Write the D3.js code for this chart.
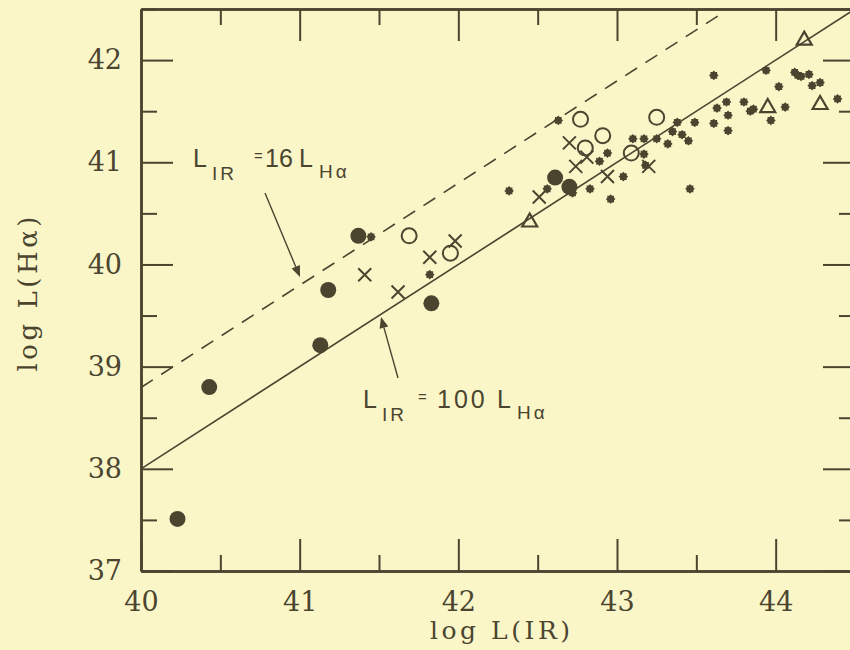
<!DOCTYPE html>
<html><head><meta charset="utf-8">
<script src="https://cdn.jsdelivr.net/npm/d3@7"></script>
<style>
html,body{margin:0;padding:0;background:#faf6c8;}
svg{display:block;}
</style></head>
<body>
<svg id="chart" width="850" height="650"></svg>
<script>
// ---- data (log L(IR), log L(Hα)) ----
const bigFilled = [[40.23,37.51],[40.43,38.80],[41.13,39.21],[41.18,39.75],[41.37,40.28],[41.83,39.62],[42.61,40.85],[42.70,40.76]];
const openCircles = [[41.69,40.28],[41.95,40.11],[42.77,41.42],[42.80,41.14],[42.91,41.26],[43.09,41.09],[43.25,41.44]];
const crosses = [[41.41,39.90],[41.62,39.73],[41.82,40.07],[41.98,40.23],[42.51,40.66],[42.70,41.19],[42.74,40.96],[42.81,41.05],[42.94,40.86],[43.20,40.96]];
const triangles = [[42.45,40.43],[43.95,41.55],[44.18,42.21],[44.28,41.58]];
const smallDots = [[41.45,40.27],[41.82,39.90],[42.32,40.72],[42.56,40.74],[42.63,41.41],[42.72,40.70],[42.83,40.74],[42.89,41.01],[42.94,41.09],[42.96,40.64],[43.04,40.86],[43.10,41.23],[43.17,41.23],[43.17,41.08],[43.18,40.97],[43.25,41.23],[43.32,41.18],[43.35,41.30],[43.38,41.39],[43.41,41.27],[43.45,41.21],[43.46,40.74],[43.49,41.39],[43.61,41.85],[43.61,41.38],[43.63,41.53],[43.69,41.59],[43.70,41.46],[43.70,41.31],[43.80,41.59],[43.84,41.50],[43.86,41.52],[43.94,41.90],[43.97,41.41],[44.02,41.74],[44.06,41.54],[44.12,41.88],[44.14,41.85],[44.16,41.84],[44.21,41.86],[44.23,41.75],[44.28,41.78],[44.39,41.62]];
const xTicks = [40,41,42,43,44];
const xMinor = [40.5,41.5,42.5,43.5,44.5];
const yTicks = [37,38,39,40,41,42];
const yMinor = [37.5,38.5,39.5,40.5,41.5,42.5];
const ratios = [{label:"16", logRatio:Math.log10(16)},{label:"100", logRatio:2}];

const ink = "#4b4530";
const svg = d3.select("#chart");
svg.append("rect").attr("width",850).attr("height",650).attr("fill","#faf6c8");

const x = d3.scaleLinear().domain([40,44.5]).range([141,855]);
const y = d3.scaleLinear().domain([37,42.5]).range([571,9]);

const serif = "'DejaVu Serif', serif";
const sans = "'Liberation Sans', Arial, sans-serif";

function styleAxis(g){
  g.select(".domain").attr("stroke",ink).attr("stroke-width",2.5);
  g.selectAll(".tick line").attr("stroke",ink).attr("stroke-width",2);
  g.selectAll(".tick text").attr("fill",ink).attr("font-family",serif).attr("font-size",27);
}
// bottom
svg.append("g").attr("transform",`translate(0,${y(37)})`)
  .call(d3.axisBottom(x).tickValues(xTicks).tickSizeInner(-32).tickSizeOuter(0).tickPadding(21).tickFormat(d3.format("d")))
  .call(styleAxis);
svg.append("g").attr("transform",`translate(0,${y(37)})`)
  .call(d3.axisBottom(x).tickValues(xMinor).tickSizeInner(-16).tickSizeOuter(0).tickFormat(""))
  .call(styleAxis);
// top
svg.append("g").attr("transform",`translate(0,${y(42.5)})`)
  .call(d3.axisTop(x).tickValues(xTicks).tickSizeInner(-32).tickSizeOuter(0).tickFormat(""))
  .call(styleAxis);
svg.append("g").attr("transform",`translate(0,${y(42.5)})`)
  .call(d3.axisTop(x).tickValues(xMinor).tickSizeInner(-16).tickSizeOuter(0).tickFormat(""))
  .call(styleAxis);
// left
svg.append("g").attr("transform",`translate(${x(40)},0)`)
  .call(d3.axisLeft(y).tickValues(yTicks).tickSizeInner(-32).tickSizeOuter(0).tickPadding(19).tickFormat(d3.format("d")))
  .call(styleAxis);
svg.append("g").attr("transform",`translate(${x(40)},0)`)
  .call(d3.axisLeft(y).tickValues(yMinor).tickSizeInner(-16).tickSizeOuter(0).tickFormat(""))
  .call(styleAxis);
// right
svg.append("g").attr("transform",`translate(${x(44.5)},0)`)
  .call(d3.axisRight(y).tickValues(yTicks).tickSizeInner(-32).tickSizeOuter(0).tickFormat(""))
  .call(styleAxis);
svg.append("g").attr("transform",`translate(${x(44.5)},0)`)
  .call(d3.axisRight(y).tickValues(yMinor).tickSizeInner(-16).tickSizeOuter(0).tickFormat(""))
  .call(styleAxis);

// axis titles
svg.append("text").attr("x",500).attr("y",639).attr("text-anchor","middle")
  .attr("font-family",serif).attr("font-size",25).attr("fill",ink)
  .attr("textLength",140).attr("lengthAdjust","spacing").text("log L(IR)");
svg.append("text").attr("transform","translate(37,294) rotate(-90)").attr("text-anchor","middle")
  .attr("font-family",serif).attr("font-size",26).attr("fill",ink)
  .attr("textLength",155).attr("lengthAdjust","spacing").text("log L(Hα)");

// relation lines
const dashedEnd = 43.65;
const lineGen = d3.line().x(d=>x(d[0])).y(d=>y(d[1]));
svg.append("path")
  .attr("d", lineGen([[40,40-ratios[0].logRatio],[dashedEnd,dashedEnd-ratios[0].logRatio]]))
  .attr("stroke",ink).attr("stroke-width",1.6).attr("fill","none").attr("stroke-dasharray","14,10");
svg.append("path")
  .attr("d", lineGen([[40,40-ratios[1].logRatio],[44.5,44.5-ratios[1].logRatio]]))
  .attr("stroke",ink).attr("stroke-width",1.6).attr("fill","none");

// markers
const g = svg.append("g");
g.selectAll("circle.big").data(bigFilled).join("circle")
  .attr("cx",d=>x(d[0])).attr("cy",d=>y(d[1])).attr("r",8).attr("fill",ink);
g.selectAll("circle.open").data(openCircles).join("circle")
  .attr("cx",d=>x(d[0])).attr("cy",d=>y(d[1])).attr("r",7.5)
  .attr("fill","none").attr("stroke",ink).attr("stroke-width",2);
g.selectAll("path.cross").data(crosses).join("path")
  .attr("d",d=>{const cx=x(d[0]),cy=y(d[1]),s=6.5;return `M${cx-s},${cy-s}L${cx+s},${cy+s}M${cx-s},${cy+s}L${cx+s},${cy-s}`;})
  .attr("stroke",ink).attr("stroke-width",2).attr("fill","none");
g.selectAll("path.tri").data(triangles).join("path")
  .attr("d",d=>{const cx=x(d[0]),cy=y(d[1]);return `M${cx},${cy-7}L${cx+7.5},${cy+6}L${cx-7.5},${cy+6}Z`;})
  .attr("stroke",ink).attr("stroke-width",2.2).attr("fill","none");
const starPts = d3.range(16).map(i=>[i*Math.PI/8, i%2?3.6:4.8]);
const starPath = d3.lineRadial().curve(d3.curveLinearClosed)(starPts);
g.selectAll("path.dot").data(smallDots).join("path")
  .attr("transform",d=>`translate(${x(d[0])},${y(d[1])})`)
  .attr("d",starPath).attr("fill",ink);

// annotations
function label(ax, ay, num, parts){
  const t = svg.append("g").attr("fill",ink).attr("font-family",sans);
  t.append("text").attr("x",ax).attr("y",ay).attr("font-size",25).text("L");
  t.append("text").attr("x",ax+19).attr("y",ay+13).attr("font-size",19).attr("letter-spacing",3).text("IR");
  t.append("text").attr("x",parts.eq).attr("y",ay-6).attr("font-size",15).text("=");
  t.append("text").attr("x",parts.num).attr("y",ay).attr("font-size",25).attr("letter-spacing",parts.ls).text(num);
  t.append("text").attr("x",parts.l2).attr("y",ay).attr("font-size",25).text("L");
  t.append("text").attr("x",parts.l2+20).attr("y",ay+11).attr("font-size",19).attr("letter-spacing",3).text("Hα");
}
label(193,167,ratios[0].label,{eq:254,num:265,l2:299,ls:0});
label(363,408,ratios[1].label,{eq:418,num:437,l2:497,ls:3});

function arrow(x1,y1,x2,y2){
  const ang=Math.atan2(y2-y1,x2-x1), L=11, W=4.5;
  const bx=x2-L*Math.cos(ang), by=y2-L*Math.sin(ang);
  svg.append("line").attr("x1",x1).attr("y1",y1).attr("x2",bx).attr("y2",by)
    .attr("stroke",ink).attr("stroke-width",1.4);
  svg.append("path").attr("d",`M${x2},${y2}L${bx+W*Math.sin(ang)},${by-W*Math.cos(ang)}L${bx-W*Math.sin(ang)},${by+W*Math.cos(ang)}Z`)
    .attr("fill",ink);
}
arrow(265,193,300,277);
arrow(398,378,381,317);
</script>
</body></html>
